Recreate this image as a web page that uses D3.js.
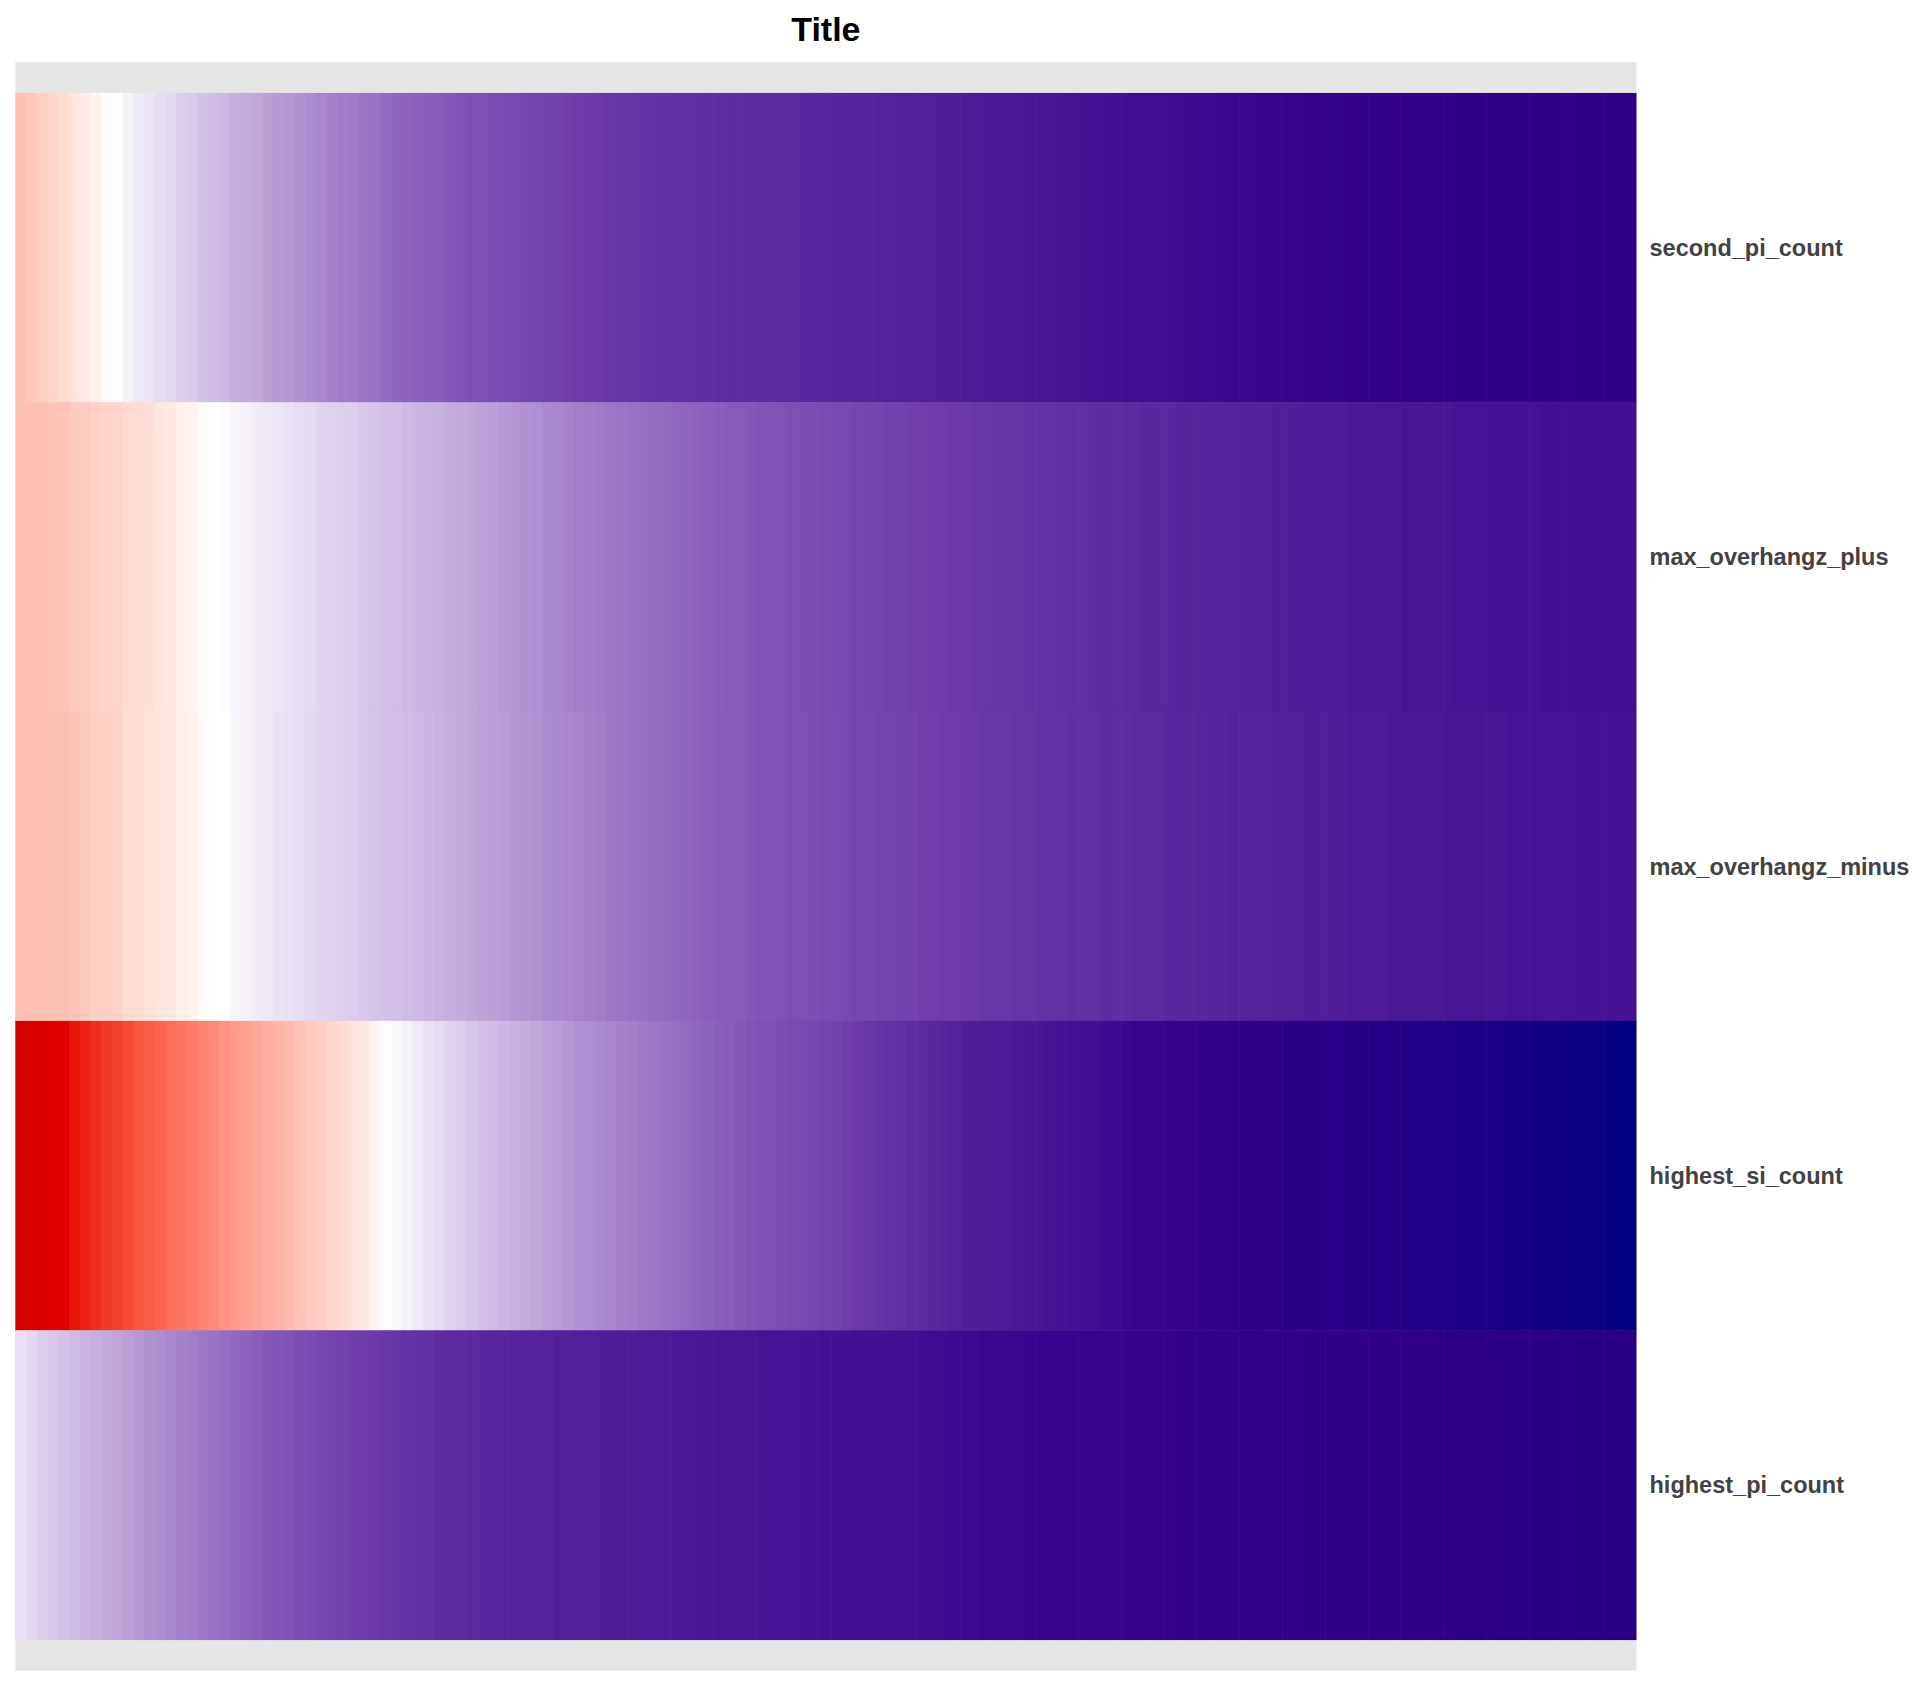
<!DOCTYPE html>
<html>
<head>
<meta charset="utf-8">
<script src="https://cdn.jsdelivr.net/npm/d3@7"></script>
<style>
  html, body { margin: 0; padding: 0; background: #ffffff; }
  svg { display: block; }
</style>
</head>
<body>
<svg id="chart" width="1924" height="1686"></svg>
<script>
// ---------------- data ----------------
const rowLabels = ["second_pi_count", "max_overhangz_plus", "max_overhangz_minus", "highest_si_count", "highest_pi_count"];
const titleText = "Title";
// scaled values: -1 = low (red), 0 = mid (white), 1 = high (navy)
const second_pi_count = [
  -0.31, -0.28, -0.25, -0.21, -0.18, -0.14, -0.10, -0.065, -0.02, 0.01,
  0.05, 0.08, 0.10, 0.12, 0.14, 0.17, 0.19, 0.22, 0.24, 0.26,
  0.29, 0.31, 0.32, 0.35, 0.37, 0.38, 0.40, 0.42, 0.44, 0.46,
  0.48, 0.49, 0.51, 0.52, 0.55, 0.57, 0.58, 0.59, 0.60, 0.61,
  0.62, 0.64, 0.65, 0.65, 0.66, 0.67, 0.68, 0.69, 0.70, 0.705,
  0.71, 0.72, 0.73, 0.735, 0.74, 0.75, 0.755, 0.76, 0.765, 0.77,
  0.775, 0.777, 0.78, 0.782, 0.785, 0.787, 0.79, 0.792, 0.795, 0.80,
  0.802, 0.805, 0.807, 0.81, 0.813, 0.816, 0.819, 0.822, 0.825, 0.828,
  0.831, 0.834, 0.837, 0.84, 0.843, 0.846, 0.85, 0.853, 0.856, 0.86,
  0.863, 0.866, 0.869, 0.872, 0.875, 0.878, 0.88, 0.883, 0.886, 0.889,
  0.892, 0.895, 0.897, 0.899, 0.901, 0.903, 0.905, 0.907, 0.909, 0.911,
  0.913, 0.915, 0.917, 0.919, 0.921, 0.923, 0.925, 0.927, 0.929, 0.931,
  0.933, 0.935, 0.937, 0.939, 0.940, 0.941, 0.942, 0.943, 0.944, 0.945,
  0.946, 0.946, 0.947, 0.947, 0.948, 0.948, 0.949, 0.949, 0.95, 0.95,
  0.95, 0.95, 0.95, 0.95, 0.95, 0.95, 0.95, 0.95, 0.95, 0.95, 0.95
];
const max_overhangz_plus = [
  -0.31, -0.31, -0.31, -0.30, -0.30, -0.27, -0.26, -0.23, -0.22, -0.21,
  -0.18, -0.17, -0.16, -0.12, -0.11, -0.07, -0.06, -0.02, 0.0, 0.01,
  0.03, 0.05, 0.07, 0.08, 0.09, 0.11, 0.12, 0.13, 0.15, 0.16,
  0.17, 0.18, 0.20, 0.21, 0.22, 0.23, 0.25, 0.26, 0.27, 0.28,
  0.30, 0.31, 0.32, 0.34, 0.35, 0.37, 0.38, 0.40, 0.41, 0.43,
  0.44, 0.45, 0.47, 0.48, 0.49, 0.50, 0.51, 0.52, 0.53, 0.54,
  0.55, 0.56, 0.57, 0.58, 0.59, 0.60, 0.61, 0.61, 0.62, 0.63,
  0.64, 0.64, 0.65, 0.66, 0.66, 0.67, 0.68, 0.68, 0.69, 0.70,
  0.70, 0.71, 0.71, 0.72, 0.72, 0.73, 0.73, 0.74, 0.74, 0.75,
  0.75, 0.76, 0.76, 0.76, 0.77, 0.77, 0.77, 0.78, 0.78, 0.78,
  0.79, 0.79, 0.79, 0.80, 0.80, 0.81, 0.81, 0.81, 0.82, 0.82,
  0.82, 0.83, 0.83, 0.83, 0.84, 0.84, 0.84, 0.85, 0.85, 0.85,
  0.86, 0.86, 0.86, 0.86, 0.87, 0.87, 0.87, 0.87, 0.87, 0.88,
  0.88, 0.88, 0.88, 0.88, 0.885, 0.885, 0.885, 0.89, 0.89, 0.89,
  0.89, 0.89, 0.895, 0.895, 0.895, 0.90, 0.90, 0.90, 0.90, 0.90, 0.90
];
const max_overhangz_minus = [
  -0.31, -0.31, -0.31, -0.31, -0.31, -0.30, -0.27, -0.24, -0.23, -0.22,
  -0.18, -0.17, -0.15, -0.13, -0.12, -0.08, -0.07, -0.02, 0.0, 0.0,
  0.03, 0.05, 0.07, 0.08, 0.10, 0.11, 0.12, 0.14, 0.15, 0.16,
  0.17, 0.18, 0.20, 0.21, 0.22, 0.23, 0.24, 0.25, 0.26, 0.27,
  0.29, 0.31, 0.32, 0.34, 0.35, 0.36, 0.38, 0.39, 0.40, 0.42,
  0.43, 0.44, 0.45, 0.46, 0.47, 0.50, 0.51, 0.52, 0.53, 0.54,
  0.55, 0.56, 0.57, 0.58, 0.59, 0.60, 0.60, 0.61, 0.62, 0.63,
  0.63, 0.64, 0.65, 0.65, 0.66, 0.67, 0.67, 0.68, 0.69, 0.69,
  0.70, 0.70, 0.71, 0.71, 0.72, 0.72, 0.73, 0.73, 0.74, 0.74,
  0.75, 0.75, 0.75, 0.76, 0.76, 0.77, 0.77, 0.77, 0.78, 0.78,
  0.78, 0.79, 0.79, 0.79, 0.80, 0.80, 0.80, 0.81, 0.81, 0.81,
  0.82, 0.82, 0.82, 0.83, 0.83, 0.83, 0.83, 0.84, 0.84, 0.84,
  0.85, 0.85, 0.85, 0.85, 0.86, 0.86, 0.86, 0.86, 0.87, 0.87,
  0.87, 0.87, 0.87, 0.88, 0.88, 0.88, 0.88, 0.88, 0.88, 0.885,
  0.885, 0.885, 0.885, 0.885, 0.89, 0.89, 0.89, 0.89, 0.89, 0.89, 0.89
];
const highest_si_count = [
  -1.00, -0.97, -0.97, -0.95, -0.95, -0.91, -0.88, -0.85, -0.82, -0.80,
  -0.77, -0.74, -0.72, -0.69, -0.66, -0.63, -0.61, -0.58, -0.55, -0.52,
  -0.49, -0.46, -0.43, -0.40, -0.37, -0.34, -0.30, -0.27, -0.24, -0.21,
  -0.18, -0.14, -0.11, -0.07, -0.01, 0.02, 0.05, 0.08, 0.11, 0.125,
  0.15, 0.18, 0.20, 0.22, 0.24, 0.26, 0.28, 0.30, 0.32, 0.34,
  0.36, 0.38, 0.40, 0.415, 0.43, 0.445, 0.46, 0.475, 0.49, 0.505,
  0.52, 0.535, 0.55, 0.565, 0.58, 0.59, 0.60, 0.615, 0.63, 0.64,
  0.65, 0.66, 0.67, 0.68, 0.69, 0.70, 0.71, 0.72, 0.735, 0.75,
  0.76, 0.77, 0.78, 0.79, 0.80, 0.81, 0.82, 0.83, 0.84, 0.85,
  0.855, 0.86, 0.865, 0.87, 0.875, 0.88, 0.885, 0.89, 0.895, 0.90,
  0.905, 0.91, 0.915, 0.92, 0.925, 0.93, 0.932, 0.934, 0.936, 0.938,
  0.94, 0.943, 0.946, 0.948, 0.95, 0.952, 0.954, 0.956, 0.958, 0.96,
  0.962, 0.963, 0.964, 0.965, 0.966, 0.968, 0.969, 0.97, 0.971, 0.972,
  0.973, 0.975, 0.976, 0.977, 0.978, 0.979, 0.98, 0.982, 0.983, 0.984,
  0.985, 0.987, 0.988, 0.989, 0.99, 0.992, 0.993, 0.995, 0.997, 0.998, 1.0
];
const highest_pi_count = [
  0.11, 0.14, 0.17, 0.20, 0.22, 0.24, 0.27, 0.29, 0.31, 0.33,
  0.35, 0.37, 0.40, 0.42, 0.44, 0.46, 0.48, 0.50, 0.52, 0.54,
  0.56, 0.58, 0.60, 0.62, 0.63, 0.64, 0.66, 0.67, 0.69, 0.70,
  0.71, 0.72, 0.73, 0.74, 0.75, 0.76, 0.77, 0.775, 0.78, 0.79,
  0.795, 0.80, 0.805, 0.81, 0.815, 0.82, 0.825, 0.83, 0.83, 0.835,
  0.84, 0.84, 0.845, 0.845, 0.85, 0.85, 0.855, 0.855, 0.86, 0.86,
  0.865, 0.865, 0.87, 0.87, 0.875, 0.875, 0.88, 0.88, 0.88, 0.885,
  0.885, 0.885, 0.89, 0.89, 0.89, 0.895, 0.895, 0.895, 0.90, 0.90,
  0.90, 0.905, 0.905, 0.905, 0.91, 0.91, 0.91, 0.915, 0.915, 0.915,
  0.92, 0.92, 0.92, 0.92, 0.925, 0.925, 0.925, 0.925, 0.93, 0.93,
  0.93, 0.93, 0.93, 0.935, 0.935, 0.935, 0.935, 0.935, 0.94, 0.94,
  0.94, 0.94, 0.94, 0.94, 0.945, 0.945, 0.945, 0.945, 0.945, 0.945,
  0.95, 0.95, 0.95, 0.95, 0.95, 0.95, 0.952, 0.952, 0.952, 0.952,
  0.954, 0.954, 0.954, 0.954, 0.956, 0.956, 0.956, 0.956, 0.958, 0.958,
  0.958, 0.958, 0.96, 0.96, 0.96, 0.96, 0.962, 0.962, 0.962, 0.962, 0.962
];
const seriesValues = [second_pi_count, max_overhangz_plus, max_overhangz_minus, highest_si_count, highest_pi_count];

// colour ramp (red - white - purple - navy)
const colourDomain = [-1, -0.95, -0.91, -0.85, -0.77, -0.69, -0.61, -0.52, -0.43, -0.34, -0.24, -0.14, -0.07, 0,
  0.125, 0.24, 0.36, 0.455, 0.53, 0.59, 0.66, 0.73, 0.79, 0.85, 0.92, 0.95, 1];
const colourRange = ["#d50000", "#e00000", "#e81408", "#f02e1e", "#f74b33", "#fe6450", "#ff7c66", "#ff9280",
  "#fea898", "#febaac", "#ffcfc4", "#ffe3dc", "#fff2ef", "#ffffff",
  "#e5dcf1", "#cfbce4", "#b89dd6", "#a583cc", "#9670c4", "#8a60bd", "#7b4db3", "#6d3caa",
  "#5e2da1", "#4f1e98", "#3a088f", "#300088", "#000080"];

// ---------------- layout ----------------
const svg = d3.select("#chart");
const W = 1924, H = 1686;
const panel = { left: 15.3, right: 1636.5, top: 62, bottom: 1670.5 };

const nCols = d3.max(seriesValues, s => s.length);
const cols = d3.range(nCols);

const x = d3.scaleBand().domain(cols).range([panel.left, panel.right]).padding(0);
const y = d3.scaleBand().domain(rowLabels).range([panel.top, panel.bottom])
  .paddingInner(0).paddingOuter(0.1);

const colour = d3.scaleLinear().domain(colourDomain).range(colourRange)
  .interpolate(d3.interpolateLab).clamp(true);

svg.append("rect").attr("x", 0).attr("y", 0).attr("width", W).attr("height", H).attr("fill", "#ffffff");

// panel background
svg.append("rect")
  .attr("x", panel.left).attr("y", panel.top)
  .attr("width", panel.right - panel.left).attr("height", panel.bottom - panel.top)
  .attr("fill", "#e5e5e5");

// tiles
const cells = [];
rowLabels.forEach((r, ri) => {
  seriesValues[ri].forEach((v, ci) => cells.push({ row: r, col: ci, v: v }));
});

svg.append("g").selectAll("rect").data(cells).join("rect")
  .attr("x", d => x(d.col))
  .attr("y", d => y(d.row))
  .attr("width", d => x.bandwidth() + (d.col < nCols - 1 ? 0.6 : 0))
  .attr("height", d => y.bandwidth() + 0.5)
  .attr("fill", d => colour(d.v));

// right-side axis labels
const axisG = svg.append("g").attr("transform", `translate(${panel.right}, 0)`);
const yAxis = d3.axisRight(y).tickSize(0).tickPadding(13);
axisG.call(yAxis);
axisG.select(".domain").remove();
axisG.selectAll("text")
  .attr("font-family", "'Liberation Sans', Arial, Helvetica, sans-serif")
  .attr("font-size", 23.5)
  .attr("font-weight", "bold")
  .attr("fill", "#424242")
  .attr("dy", "0.36em");

// title
svg.append("text")
  .attr("x", (panel.left + panel.right) / 2)
  .attr("y", 40.5)
  .attr("text-anchor", "middle")
  .attr("font-family", "'Liberation Sans', Arial, Helvetica, sans-serif")
  .attr("font-size", 34)
  .attr("font-weight", "bold")
  .attr("fill", "#000000")
  .text(titleText);
</script>
</body>
</html>
